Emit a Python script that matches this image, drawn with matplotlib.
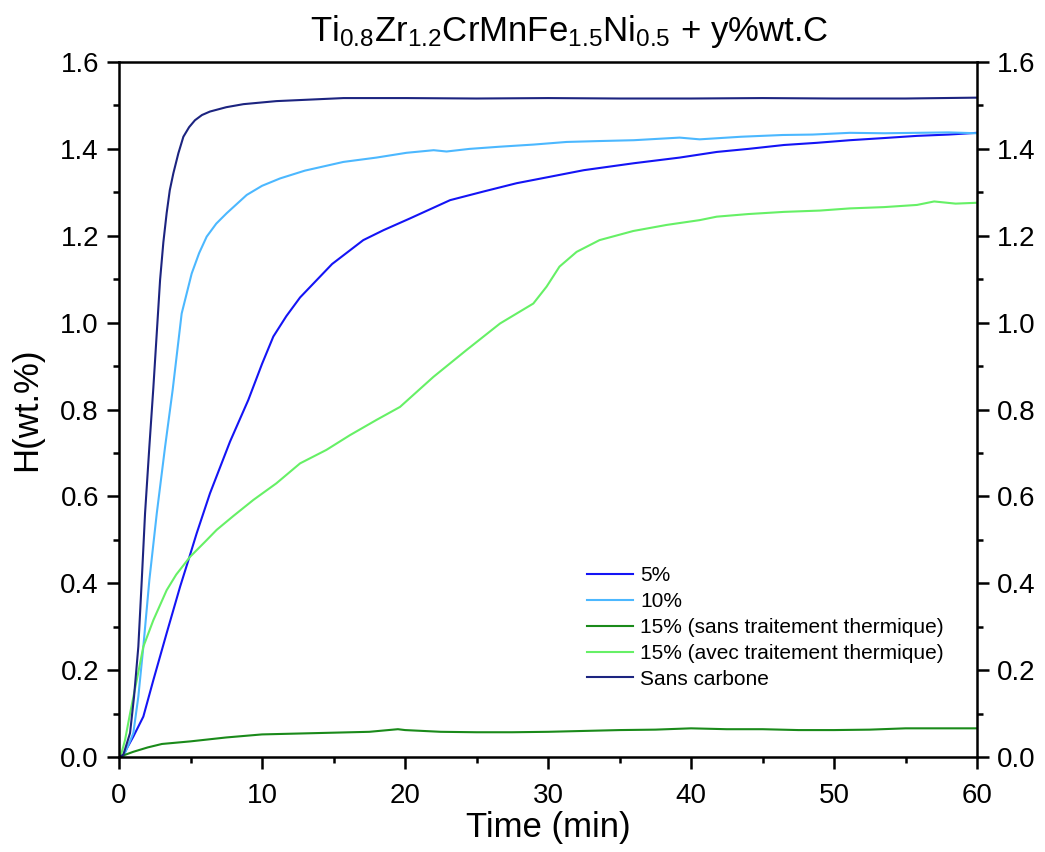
import numpy as np
import matplotlib
matplotlib.use('Agg')
import matplotlib.pyplot as plt
from matplotlib.ticker import MultipleLocator

plt.rcParams['font.family'] = ['Liberation Sans', 'DejaVu Sans']
plt.rcParams['mathtext.fontset'] = 'custom'
plt.rcParams['mathtext.rm'] = 'Liberation Sans'
plt.rcParams['mathtext.it'] = 'Liberation Sans'

# values (time in min, H in wt.%)
t_5 = [0, 0.3, 1.0, 1.7, 2.4, 3.33, 4.27, 4.85, 5.43, 6.36, 7.76, 9.04, 10.0, 10.79, 11.7,
       12.66, 14.9, 17.08, 18.5, 20.35, 23.15, 25.5, 27.8, 30, 32.5, 36.0, 39.2, 41.8, 44,
       46.5, 48.8, 51.1, 53.5, 55.8, 58, 60]
h_5 = [0, 0.005, 0.047, 0.093, 0.177, 0.285, 0.392, 0.453, 0.515, 0.607, 0.726, 0.822, 0.905,
       0.968, 1.015, 1.058, 1.135, 1.190, 1.213, 1.240, 1.282, 1.302, 1.321, 1.335, 1.351,
       1.367, 1.380, 1.393, 1.400, 1.409, 1.414, 1.420, 1.425, 1.430, 1.433, 1.437]

t_10 = [0, 0.3, 1.0, 1.35, 1.7, 2.12, 2.64, 3.22, 3.75, 4.38, 5.08, 5.6, 6.13, 6.8, 7.53,
        8.93, 10.0, 11.26, 13.0, 15.69, 18.0, 20.1, 22.0, 22.9, 24.5, 26.6, 29, 31.3, 33.5,
        36.0, 39.2, 40.6, 43.5, 46.4, 48.5, 51.1, 53.5, 55.8, 58, 60]
h_10 = [0, 0, 0.055, 0.139, 0.254, 0.407, 0.561, 0.714, 0.845, 1.021, 1.113, 1.160, 1.198,
        1.228, 1.252, 1.294, 1.315, 1.332, 1.350, 1.370, 1.380, 1.391, 1.397, 1.394, 1.400,
        1.405, 1.410, 1.416, 1.418, 1.420, 1.426, 1.422, 1.428, 1.432, 1.433, 1.437, 1.436,
        1.437, 1.438, 1.436]

t_15s = [0, 1, 2, 2.5, 3, 4, 5, 7.5, 10, 12.5, 15, 17.5, 19.5, 20, 22.5, 25, 27.5, 30, 32.5,
         35, 37.5, 40, 42.5, 45, 47.5, 50, 52.5, 55, 57.5, 60]
h_15s = [0, 0.012, 0.022, 0.026, 0.030, 0.033, 0.036, 0.045, 0.052, 0.054, 0.056, 0.058,
         0.064, 0.062, 0.058, 0.057, 0.057, 0.058, 0.060, 0.062, 0.063, 0.066, 0.064, 0.064,
         0.062, 0.062, 0.063, 0.066, 0.066, 0.066]

t_15a = [0, 0.1, 0.42, 0.77, 1.24, 1.7, 2.4, 3.33, 4.0, 4.97, 6.0, 6.83, 8.0, 9.4, 11.0,
         12.66, 14.5, 16.15, 18.0, 19.65, 21.98, 24.3, 26.64, 28.97, 29.9, 30.8, 32.0, 33.6,
         35.96, 38.3, 40.6, 41.8, 44, 46.5, 49, 51.1, 53.5, 55.8, 57.0, 58.5, 60]
h_15a = [0, 0, 0.039, 0.100, 0.177, 0.254, 0.315, 0.384, 0.420, 0.461, 0.495, 0.523, 0.555,
         0.592, 0.630, 0.676, 0.707, 0.741, 0.776, 0.806, 0.875, 0.937, 0.998, 1.044, 1.083,
         1.129, 1.163, 1.190, 1.211, 1.225, 1.236, 1.244, 1.250, 1.255, 1.258, 1.263, 1.266,
         1.271, 1.279, 1.274, 1.276]

t_0 = [0, 0.3, 0.77, 1.05, 1.35, 1.59, 1.82, 2.12, 2.4, 2.87, 3.1, 3.33, 3.55, 3.8, 4.15,
       4.5, 4.9, 5.31, 5.8, 6.36, 7.5, 8.7, 11.0, 15.7, 20.1, 25, 30, 35, 40, 45, 50, 55, 60]
h_0 = [0, 0.005, 0.055, 0.139, 0.254, 0.407, 0.561, 0.714, 0.850, 1.098, 1.185, 1.252, 1.305,
       1.344, 1.390, 1.428, 1.450, 1.466, 1.478, 1.486, 1.496, 1.503, 1.510, 1.517, 1.517,
       1.516, 1.517, 1.516, 1.516, 1.517, 1.516, 1.516, 1.518]

labels = ['5%', '10%', '15% (sans traitement thermique)',
          '15% (avec traitement thermique)', 'Sans carbone']
colors = ['#1414f5', '#4cb8ff', '#1a8a1a', '#66f066', '#1c2480']

fig = plt.figure(figsize=(10.45, 8.52), dpi=100)
ax = fig.add_axes([0.1139, 0.1115, 0.8211, 0.8157])

series = [(t_5, h_5), (t_10, h_10), (t_15s, h_15s), (t_15a, h_15a), (t_0, h_0)]
for (t, h), lab, c in zip(series, labels, colors):
    ax.plot(t, h, color=c, lw=1.5, label=lab)

ax.set_xlim(0, 60)
ax.set_ylim(0, 1.6)
ax.xaxis.set_major_locator(MultipleLocator(10))
ax.xaxis.set_minor_locator(MultipleLocator(5))
ax.yaxis.set_major_locator(MultipleLocator(0.2))
ax.yaxis.set_minor_locator(MultipleLocator(0.1))
ax.yaxis.set_major_formatter(plt.FormatStrFormatter('%.1f'))

for s in ax.spines.values():
    s.set_linewidth(1.8)
ax.tick_params(which='both', direction='out', width=1.8, labelsize=20,
               right=True, labelright=True, top=False)
ax.tick_params(which='major', length=8.5)
ax.tick_params(which='minor', length=4.5)
ax.tick_params(axis='x', pad=10)
ax.tick_params(axis='y', pad=6)

ax.set_xlabel('Time (min)', fontsize=25, labelpad=2)
ax.set_ylabel('H(wt.%)', fontsize=25, labelpad=12)
ax.set_title(r'Ti$_{0.8}$Zr$_{1.2}$CrMnFe$_{1.5}$Ni$_{0.5}$ + y%wt.C', fontsize=25,
             pad=15, x=0.5245)

ax.legend(loc='upper left', bbox_to_anchor=(0.5455, 0.2745), frameon=False, fontsize=15,
          handlelength=2.2, handletextpad=0.35, labelspacing=0.33, borderaxespad=0,
          borderpad=0)

fig.savefig('out.png', dpi=100)
